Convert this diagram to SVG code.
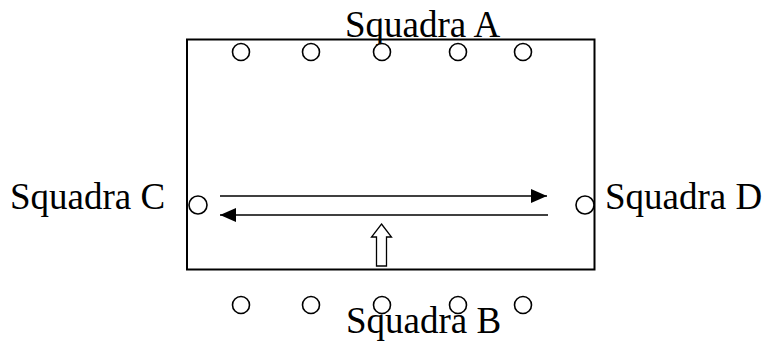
<svg xmlns="http://www.w3.org/2000/svg" width="765" height="343" viewBox="0 0 765 343">
  <style>
    .label { font-family: "Liberation Serif", "Times New Roman", serif; font-size: 37px; fill: #000; }
    .field { fill: none; stroke: #000; stroke-width: 2; }
    .player { fill: #fff; stroke: #000; stroke-width: 1.6; }
    .run { stroke: #000; stroke-width: 1.5; fill: none; }
    .hollow { fill: #fff; stroke: #000; stroke-width: 1.3; }
  </style>
  <defs>
    <marker id="head" viewBox="0 0 16 14" refX="16" refY="7" markerWidth="16" markerHeight="14" markerUnits="userSpaceOnUse" orient="auto">
      <path d="M0,0 L16,7 L0,14 Z" fill="#000"/>
    </marker>
  </defs>

  <rect id="field" class="field" x="187" y="39.5" width="407.5" height="230"/>

  <g id="squadra-a">
    <text class="label" x="345" y="37">Squadra A</text>
    <circle class="player" cx="241" cy="52" r="8.5"/>
    <circle class="player" cx="311" cy="52" r="8.5"/>
    <circle class="player" cx="382" cy="52" r="8.5"/>
    <circle class="player" cx="458" cy="52" r="8.5"/>
    <circle class="player" cx="523" cy="52" r="8.5"/>
  </g>

  <g id="squadra-b">
    <circle class="player" cx="241" cy="305" r="8.5"/>
    <circle class="player" cx="311" cy="305" r="8.5"/>
    <circle class="player" cx="382" cy="305" r="8.5"/>
    <circle class="player" cx="458" cy="305" r="8.5"/>
    <circle class="player" cx="523" cy="305" r="8.5"/>
    <text class="label" x="346" y="333">Squadra B</text>
  </g>

  <g id="squadra-c">
    <text class="label" x="10" y="209">Squadra C</text>
    <circle class="player" cx="198" cy="205" r="9"/>
  </g>

  <g id="squadra-d">
    <circle class="player" cx="585" cy="205" r="9"/>
    <text class="label" x="605" y="209">Squadra D</text>
  </g>

  <g id="connectors">
    <line class="run" x1="220" y1="196" x2="547" y2="196" marker-end="url(#head)"/>
    <line class="run" x1="548" y1="215" x2="220" y2="215" marker-end="url(#head)"/>
    <path class="hollow" d="M381.5,224 L391.5,237 L386.5,237 L386.5,266 L376.5,266 L376.5,237 L371.5,237 Z"/>
  </g>
</svg>
